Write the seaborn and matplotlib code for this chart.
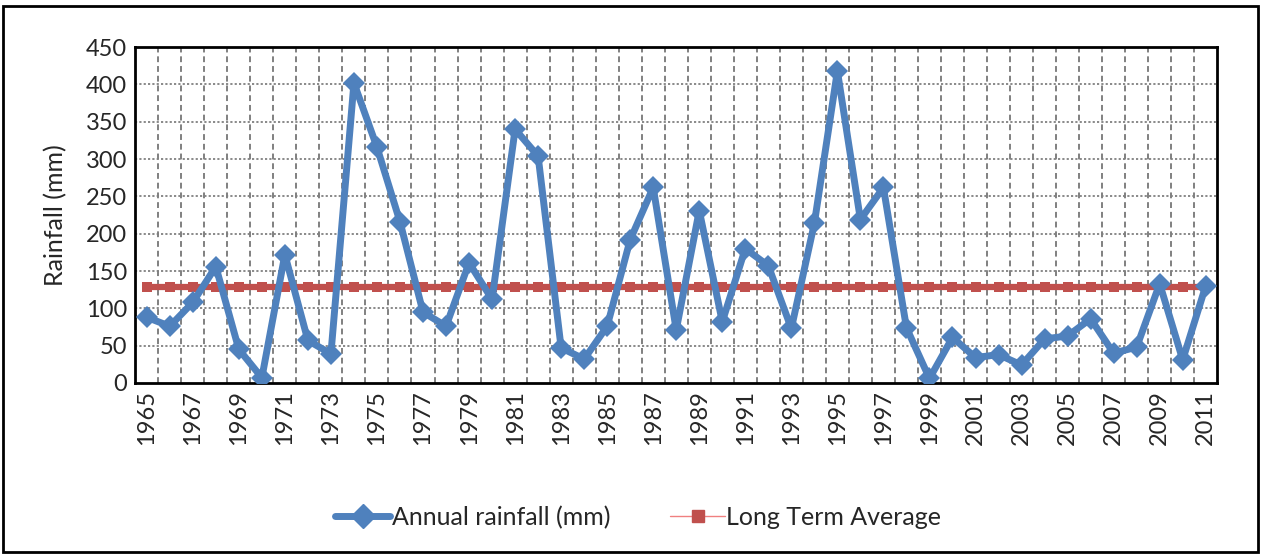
import numpy as np
import pandas as pd
import matplotlib.pyplot as plt
import matplotlib.patches as patches
from matplotlib.lines import Line2D
import seaborn as sns

# --- DATA ---
years = list(range(1965, 2012))
rainfall = [88, 76, 108, 156, 45, 7, 172, 57, 39, 402,
            316, 216, 95, 76, 161, 112, 340, 304, 47, 32,
            76, 192, 262, 71, 231, 82, 180, 157, 73, 214,
            418, 219, 262, 74, 6, 61, 34, 38, 24, 59,
            63, 86, 40, 48, 133, 31, 130]
long_term_avg = [129] * len(years)

df = pd.DataFrame({'pos': np.arange(len(years)), 'year': years,
                   'rain': rainfall, 'avg': long_term_avg})

# --- STYLE ---
sns.set_style("white")
plt.rcParams['font.family'] = ['Lato', 'DejaVu Sans']

blue = '#4F81BD'
red = '#C0504D'

fig = plt.figure(figsize=(12.64, 5.55), dpi=100)
ax = fig.add_axes([0.107, 0.31, 0.856, 0.605])

sns.lineplot(data=df, x='pos', y='avg', ax=ax, color=red, linewidth=4.5,
             marker='s', markersize=7, markeredgewidth=0, zorder=3)
sns.lineplot(data=df, x='pos', y='rain', ax=ax, color=blue, linewidth=5,
             marker='D', markersize=11, markeredgewidth=0, zorder=4)

ax.set_xlim(-0.5, len(years) - 0.5)
ax.set_ylim(0, 450)
ax.set_yticks(range(0, 451, 50))
ax.set_xticks(df['pos'][::2])
ax.set_xticklabels([str(y) for y in years[::2]], rotation=90, fontsize=17)
ax.tick_params(axis='y', labelsize=17, length=0, pad=6)
ax.tick_params(axis='x', length=0, pad=5)

# grid: dotted horizontal, dashed vertical between categories
for v in range(50, 451, 50):
    ax.axhline(v, color='#808080', linestyle=(0, (1.2, 1.2)), linewidth=1.3, zorder=1)
for b in np.arange(0.5, len(years) - 1, 1):
    ax.axvline(b, color='#808080', linestyle=(0, (3, 2)), linewidth=1.4, zorder=1)

for s in ax.spines.values():
    s.set_color('black')
    s.set_linewidth(2)

ax.set_xlabel('')
ax.set_ylabel('Rainfall (mm)', fontsize=18, labelpad=13)

handles = [Line2D([], [], color=blue, linewidth=5, marker='D', markersize=12),
           Line2D([], [], color='#F08080', linewidth=1, marker='s', markersize=8,
                  markerfacecolor=red, markeredgecolor=red)]
fig.legend(handles, ['Annual rainfall (mm)', 'Long Term Average'],
           loc='center', bbox_to_anchor=(0.505, 0.068), ncol=2, frameon=False,
           fontsize=18, handlelength=2.2, handletextpad=0.05, columnspacing=2.4)

# outer chart border
fig.patches.append(patches.Rectangle((0.002, 0.005), 0.993, 0.985, transform=fig.transFigure,
                                     fill=False, edgecolor='black', linewidth=2))

plt.savefig('out.png', dpi=100)
plt.close()
